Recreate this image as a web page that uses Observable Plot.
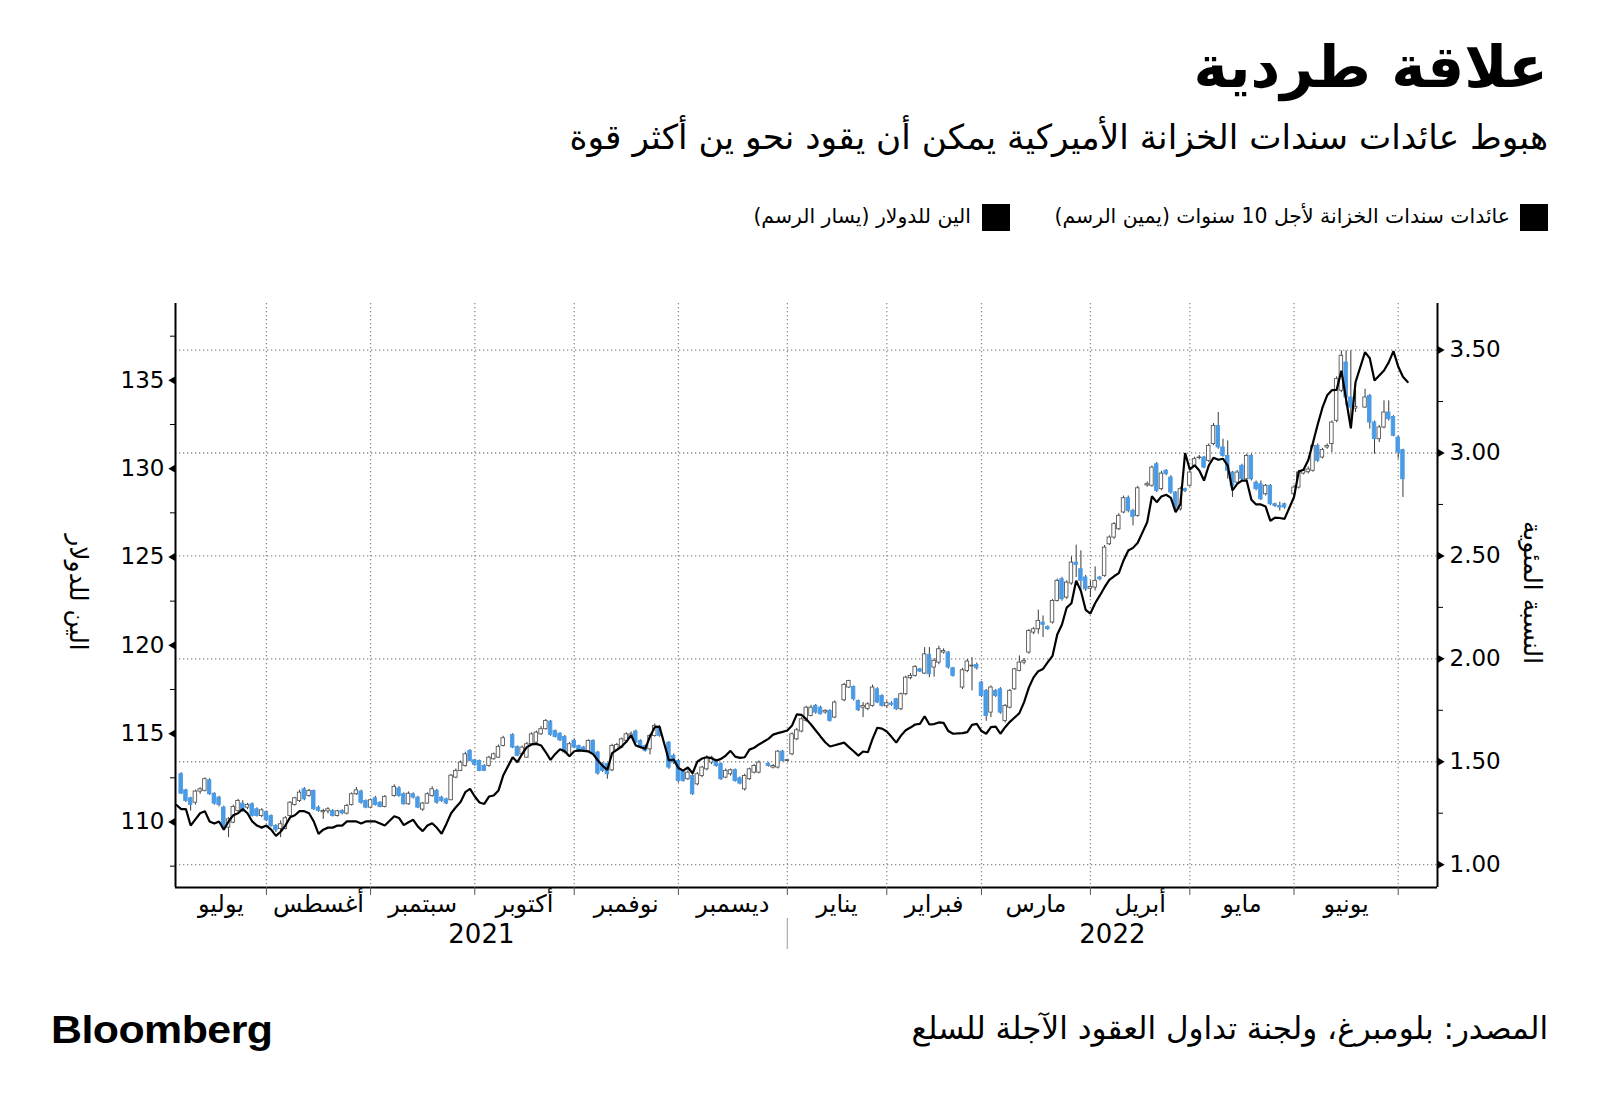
<!DOCTYPE html>
<html>
<head>
<meta charset="utf-8">
<script src="https://cdn.jsdelivr.net/npm/d3@7"></script>
<script src="https://cdn.jsdelivr.net/npm/@observablehq/plot@0.6"></script>
<style>
html,body{margin:0;padding:0;background:#fff;}
#page{position:relative;width:1600px;height:1111px;overflow:hidden;background:#fff;}
.ar{font-family:"DejaVu Sans",sans-serif;direction:rtl;position:absolute;white-space:nowrap;color:#000;line-height:1;}
#title{right:52px;top:38px;font-size:58px;font-weight:bold;}
#subtitle{right:52px;top:120px;font-size:34.3px;}
.sw{position:absolute;width:28px;height:27px;background:#000;top:204px;}
.lg{top:206px;font-size:20.4px;}
#source{right:52px;top:1013px;font-size:31px;}
#logo{position:absolute;left:51px;top:1010px;font-family:"Liberation Sans",Arial,sans-serif;font-weight:bold;font-size:39px;letter-spacing:-0.5px;transform:scaleX(1.1);transform-origin:left center;line-height:1;}
#chart{position:absolute;left:0;top:280px;}
</style>
</head>
<body>
<div id="page">
  <div id="title" class="ar">علاقة طردية</div>
  <div id="subtitle" class="ar">هبوط عائدات سندات الخزانة الأميركية يمكن أن يقود نحو ين أكثر قوة</div>
  <div class="sw" style="left:1520px"></div>
  <div class="ar lg" style="right:90px">عائدات سندات الخزانة لأجل 10 سنوات (يمين الرسم)</div>
  <div class="sw" style="left:982px"></div>
  <div class="ar lg" style="right:629px">الين للدولار (يسار الرسم)</div>
  <div id="chart"></div>
  <div id="source" class="ar">المصدر: بلومبرغ، ولجنة تداول العقود الآجلة للسلع</div>
  <div id="logo">Bloomberg</div>
</div>
<script>
// ---------------- DATA ----------------
// x positions are trading-day indices counted from 1 July 2021 (index 0)
const monthNames = ["يوليو","أغسطس","سبتمبر","أكتوبر","نوفمبر","ديسمبر","يناير","فبراير","مارس","أبريل","مايو","يونيو"];
const monthStartDays = [0,22,44,66,87,109,132,153,173,196,217,239,261];
const yearLabels = ["2021","2022"];
const yenTicks = [110,115,120,125,130,135];
const yenMinorTicks = [107.5,112.5,117.5,122.5,127.5,132.5,137.5];
const yieldTicks = [1.00,1.50,2.00,2.50,3.00,3.50];
const yieldMinorTicks = [1.25,1.75,2.25,2.75,3.25];
const leftTitle = "الين للدولار";
const rightTitle = "النسبة المئوية";

// USD/JPY daily candles [open, high, low, close]; first row is trading day 4, null = no session
const usdJpyStart = 4;
const usdJpy = [
/* 4 */ [112.70,112.79,111.55,111.60],[111.79,111.85,111.10,111.19],[111.34,111.40,110.62,110.96],[111.09,111.80,110.95,111.72],[111.72,111.94,111.57,111.85],
/* 9 */ [111.76,112.50,111.70,112.42],[112.36,112.45,111.50,111.57],[111.60,111.65,110.95,111.04],[111.38,111.45,110.85,110.96],[110.81,110.90,109.65,109.72],
/*14 */ [109.68,110.25,109.11,110.15],[109.96,110.95,109.90,110.85],[110.62,111.28,110.55,111.19],[111.04,111.20,110.55,110.62],[110.81,111.05,110.70,110.96],
/*19 */ [111.00,111.08,110.28,110.34],[110.72,110.80,110.28,110.34],[110.34,110.75,110.25,110.66],[110.57,110.62,110.02,110.09],[110.34,110.40,109.70,109.77],
/*24 */ [109.77,109.85,109.40,109.53],[109.60,110.06,109.11,109.87],[109.60,110.30,109.55,110.21],[110.34,111.15,110.30,111.09],[110.96,111.40,110.90,111.34],
/*29 */ [111.19,111.80,111.10,111.66],[111.85,111.95,111.20,111.28],[111.47,111.85,111.40,111.76],[111.76,111.80,110.65,110.72],[110.81,110.90,110.55,110.62],
/*34 */ [110.55,110.72,110.15,110.62],[110.60,110.81,110.45,110.72],[110.62,110.70,110.28,110.34],[110.34,110.66,110.28,110.60],[110.62,110.70,110.40,110.49],
/*39 */ [110.47,111.00,110.40,110.91],[110.96,111.65,110.90,111.57],[111.57,111.95,111.50,111.79],[111.72,111.80,111.00,111.09],[111.19,111.25,110.75,110.81],
/*44 */ [110.81,111.30,110.75,111.23],[111.34,111.45,110.90,110.96],[111.09,111.15,110.80,110.85],[110.85,111.50,110.80,111.42],null,
/*49 */ [111.47,112.10,111.40,111.98],[111.90,112.00,111.40,111.47],[111.57,111.65,110.95,111.00],[111.00,111.70,110.95,111.60],[111.57,111.65,111.30,111.38],
/*54 */ [111.38,111.45,110.75,110.81],[110.70,111.10,110.60,111.04],[111.04,111.65,111.00,111.57],[111.47,112.00,111.40,111.85],[111.76,111.85,111.00,111.09],
/*59 */ [111.38,111.45,111.10,111.19],[111.28,111.35,110.98,111.04],[111.23,112.70,111.20,112.62],[112.51,113.00,112.45,112.89],[112.89,113.45,112.85,113.36],
/*64 */ [113.17,113.95,113.10,113.83],[114.02,114.10,113.40,113.45],[113.49,113.55,113.15,113.23],[113.45,113.50,112.85,112.89],[113.17,113.25,112.85,112.89],
/*69 */ [113.17,113.72,113.10,113.64],[113.55,113.90,113.50,113.83],[113.64,114.35,113.60,114.25],[114.30,114.85,114.25,114.74],null,
/*74 */ [114.93,115.00,114.15,114.21],[114.25,114.30,113.70,113.74],[113.83,114.30,113.78,114.21],[113.64,114.50,113.60,114.40],[114.40,115.05,114.35,114.96],
/*79 */ [114.49,115.15,114.45,115.06],[114.96,115.40,114.90,115.25],[115.25,115.80,115.20,115.72],[115.68,115.75,114.85,114.93],[115.15,115.20,114.75,114.81],
/*84 */ [115.00,115.05,114.55,114.62],[114.81,114.90,113.85,113.93],[113.74,114.50,113.70,114.40],[114.59,114.70,114.15,114.21],[114.30,114.35,113.92,113.98],
/*89 */ [114.21,114.28,113.95,114.02],[113.98,114.65,113.92,114.59],[114.59,114.65,113.78,113.83],[113.93,114.00,112.65,112.74],[113.30,113.35,112.80,112.89],
/*94 */ [113.27,113.32,112.42,112.70],[112.92,114.40,112.85,114.30],[114.06,114.45,114.00,114.36],[114.21,114.75,114.15,114.68],[114.59,115.05,114.55,114.96],
/*99 */ [114.78,115.10,114.72,114.96],[115.12,115.20,114.45,114.49],[114.59,114.65,114.15,114.21],[114.30,114.35,113.95,114.02],[114.11,114.95,113.80,114.87],
/*104*/ [114.87,115.55,114.80,115.44],[115.34,115.45,114.80,114.87],null,[114.49,114.55,112.98,113.08],[113.74,113.85,113.25,113.36],
/*109*/ [113.45,113.55,112.20,112.32],[112.89,112.95,112.25,112.32],[112.42,112.90,112.35,112.79],[112.60,112.70,111.50,111.57],[112.13,112.80,112.05,112.70],
/*114*/ [112.60,113.15,112.50,113.08],[112.98,113.75,112.90,113.64],[113.36,113.72,113.25,113.64],[113.45,113.55,113.10,113.17],[113.27,113.35,112.35,112.42],
/*119*/ [112.51,113.00,112.45,112.89],[112.70,113.00,112.60,112.93],[112.93,113.00,112.25,112.32],[112.47,112.55,112.10,112.17],[111.85,112.70,111.75,112.60],
/*124*/ [112.42,113.05,112.35,112.98],[112.79,113.25,112.72,113.17],[112.79,113.45,112.72,113.36],null,[113.30,113.35,113.10,113.17],
/*129*/ [113.08,113.25,113.00,113.17],[113.08,114.05,113.00,113.98],[113.98,114.05,113.40,113.45],[113.45,113.55,113.40,113.50],[113.83,115.05,113.75,114.96],
/*134*/ [114.68,115.30,114.60,115.19],[115.12,115.90,115.05,115.81],[115.72,116.55,115.65,116.47],[116.00,116.60,115.95,116.47],[116.57,116.65,116.10,116.19],
/*139*/ [116.47,116.55,116.05,116.10],[116.20,116.35,116.10,116.29],[116.29,116.35,115.65,115.72],[115.91,116.85,115.85,116.76],null,
/*144*/ [116.89,117.85,116.80,117.76],[117.61,118.02,117.55,117.98],[117.64,117.70,116.85,116.95],[116.85,116.90,116.25,116.32],[116.47,116.76,115.91,116.57],
/*149*/ [116.40,116.75,116.30,116.66],[116.57,117.75,116.50,117.61],[117.51,117.60,116.70,116.76],[117.13,117.20,116.50,116.57],[116.55,116.85,116.45,116.72],
/*154*/ [116.70,116.80,116.55,116.63],[116.95,117.00,116.30,116.38],[116.38,117.30,116.30,117.23],[117.23,118.25,117.15,118.17],[118.14,118.40,118.05,118.27],
/*159*/ [118.27,118.85,118.20,118.78],[118.64,118.70,118.45,118.51],[118.40,119.87,118.35,119.49],[119.46,119.87,118.17,118.36],[118.74,119.25,118.20,119.12],
/*164*/ [119.02,119.95,118.90,119.78],[119.59,119.80,119.50,119.68],[119.59,119.65,118.65,118.74],[118.70,118.75,118.20,118.27],null,
/*169*/ [117.61,118.70,117.50,118.59],[118.55,119.20,118.45,119.08],[118.80,119.30,117.42,118.85],[118.89,119.00,118.60,118.70],[117.89,117.95,117.05,117.13],
/*174*/ [117.42,117.50,115.70,116.00],[116.19,117.70,115.90,117.61],[117.42,117.50,117.05,117.13],[117.51,117.60,116.10,116.19],[115.72,116.65,115.60,116.57],
/*179*/ [116.47,117.50,116.40,117.42],[117.51,118.70,117.45,118.64],[118.55,119.40,118.50,119.02],[119.02,119.25,118.90,119.12],[119.59,120.90,119.50,120.81],
/*184*/ [120.72,121.00,120.60,120.91],[120.91,121.99,120.63,121.38],[121.29,121.66,120.44,121.16],[121.04,121.10,120.85,120.91],[121.29,122.60,121.20,122.51],
/*189*/ [122.51,123.75,122.45,123.65],[123.74,123.85,122.50,122.61],[122.70,123.65,122.60,123.55],[123.50,125.01,123.40,124.68],[124.68,125.67,123.84,124.55],
/*194*/ [124.31,125.35,123.08,123.65],[123.84,123.95,123.05,123.17],[123.20,123.65,122.70,123.30],[123.27,124.44,123.08,123.65],[123.84,123.90,123.65,123.74],
/*199*/ [123.93,125.65,123.85,125.53],[125.72,126.20,125.65,126.10],[126.10,126.95,126.00,126.86],[126.57,127.45,126.50,127.33],[127.52,128.45,127.45,128.33],
/*204*/ [128.33,128.45,127.50,127.61],[127.61,127.70,126.76,127.27],[127.33,129.00,127.25,128.89],null,[129.05,129.25,128.95,129.12],
/*209*/ [129.03,130.15,128.95,130.06],[130.25,130.35,128.65,128.74],[128.84,129.85,128.75,129.72],[129.88,129.95,129.60,129.69],[129.50,129.60,128.55,128.65],
/*214*/ [128.65,128.70,127.70,127.80],[127.70,128.95,127.60,128.84],[128.84,128.90,128.65,128.74],[129.03,129.90,128.95,129.78],[130.16,130.65,130.10,130.54],
/*219*/ [130.60,130.75,130.50,130.63],[130.63,130.70,130.00,130.06],[130.44,131.40,130.35,131.29],[131.39,132.55,131.30,132.42],[132.42,133.18,131.10,131.20],
/*224*/ [131.20,131.67,130.65,130.72],[130.72,131.57,129.40,129.88],[129.78,129.85,128.37,129.03],[129.21,129.90,129.10,129.78],[130.16,130.25,129.30,129.40],
/*229*/ [129.40,130.82,129.30,130.72],[130.72,130.82,129.30,129.40],[129.21,129.30,128.75,128.84],[129.12,129.31,128.20,128.27],[128.55,129.10,128.45,129.03],
/*234*/ [129.03,129.10,127.90,127.99],[127.99,128.05,127.80,127.89],[127.89,128.10,127.60,127.80],[127.99,128.05,127.70,127.80],null,
/*239*/ [128.55,129.05,128.45,128.93],[128.93,129.90,128.85,129.78],[129.72,130.00,129.65,129.88],[129.80,130.10,129.70,129.95],[129.88,131.40,129.80,131.29],
/*244*/ [131.29,131.40,130.35,130.44],[130.63,131.15,130.55,131.05],[131.20,131.40,131.10,131.29],[131.39,132.70,130.91,132.61],[132.71,135.20,132.60,135.07],
/*249*/ [134.41,136.67,134.30,136.39],[136.01,136.67,133.56,134.03],[134.03,136.67,132.71,133.46],[133.40,134.44,133.18,133.50],null,
/*254*/ [133.46,134.50,133.40,134.03],[134.12,134.20,132.24,132.61],[132.61,132.70,130.82,131.67],[131.67,132.45,131.48,132.33],[132.33,133.84,132.25,133.18],
/*259*/ [133.18,133.84,132.70,132.80],[132.93,133.00,131.80,131.86],[131.76,131.85,130.54,130.91],[131.05,131.10,128.37,129.40]
];

// US 10-year Treasury yield (%), first value is trading day 3, null = no session
const yieldStart = 3;
const treasury10y = [
/* 3 */ 1.29,1.27,1.27,1.19,1.22,1.25,1.26,1.21,1.20,1.21,
/*13 */ 1.17,1.21,1.24,1.25,1.27,1.25,1.21,1.19,1.18,1.19,
/*23 */ 1.17,1.14,1.16,1.19,1.23,1.24,1.26,1.26,1.25,1.21,
/*33 */ 1.15,1.17,1.18,1.18,1.19,1.19,1.21,1.21,1.21,1.20,
/*43 */ 1.21,1.21,1.21,1.20,1.19,null,1.235,1.227,1.192,1.206,
/*53 */ 1.218,1.185,1.163,1.190,1.201,1.179,1.150,1.198,1.250,1.279,
/*63 */ 1.304,1.352,1.368,1.331,1.302,1.295,1.331,1.336,1.360,1.433,
/*73 */ null,1.522,1.498,1.538,1.571,1.584,1.587,1.579,1.546,1.509,
/*83 */ 1.538,1.561,1.551,1.527,1.551,1.555,1.553,1.550,1.537,1.506,
/*93 */ 1.480,1.461,1.542,1.558,1.574,1.597,1.629,1.579,1.571,1.563,
/*103*/ 1.623,1.668,1.671,null,1.506,1.511,1.470,1.457,1.472,1.444,
/*113*/ 1.501,1.516,1.522,1.517,1.506,1.514,1.530,1.553,1.525,1.519,
/*123*/ 1.522,1.559,1.568,1.584,null,1.611,1.632,1.639,1.645,1.652,
/*133*/ 1.676,1.730,1.728,1.707,1.681,1.652,1.623,1.595,1.574,1.580,
/*143*/ null,1.593,1.571,1.551,1.530,1.550,1.546,1.611,1.665,1.661,
/*153*/ 1.647,1.621,1.593,1.627,1.653,1.666,1.681,1.684,1.721,1.681,
/*163*/ 1.683,1.691,1.689,1.649,1.636,null,1.639,1.644,1.679,1.684,
/*173*/ 1.649,1.636,1.668,1.671,1.636,1.668,1.694,1.715,1.736,1.79,
/*183*/ 1.86,1.91,1.94,1.951,1.984,2.014,2.118,2.167,2.249,2.270,
/*193*/ 2.380,2.329,2.238,2.220,2.270,2.308,2.348,2.384,2.401,2.416,
/*203*/ 2.478,2.526,2.539,2.564,null,2.664,2.790,2.761,2.789,2.797,
/*213*/ 2.782,2.712,2.750,3.000,2.920,2.940,2.915,2.866,2.939,2.977,
/*223*/ 2.967,2.972,2.939,2.818,2.850,2.866,2.866,2.773,2.750,2.750,
/*233*/ 2.740,2.670,2.686,2.684,2.680,null,2.786,2.910,2.919,2.965,
/*243*/ 3.050,3.138,3.220,3.280,3.305,3.307,3.400,3.260,3.120,3.345,
/*253*/ null,3.490,3.460,3.352,3.376,3.401,3.440,3.495,3.420,3.370,3.345
];

// ---------------- CHART ----------------
const BLUE = "#4a9be6";
const GRID = "#8c8c8c";
const AR_FONT = "DejaVu Sans, sans-serif";
const xDomain = [2.8, 269.3];
const yDomain = [106.29, 139.35];
// right-axis (yield %) expressed on the left-axis (yen) scale
const toYen = r => 107.582 + 11.653 * (r - 1);
const fromYen = v => 1 + (v - 107.582) / 11.653;

const candles = usdJpy.map((d, k) => d && {i: usdJpyStart + k, open: d[0], high: d[1], low: d[2], close: d[3]}).filter(Boolean);
const yields = treasury10y.map((v, k) => v == null ? null : {i: yieldStart + k, y: v}).filter(Boolean);
const monthLabels = monthNames.map((name, k) => ({
  name, mid: (Math.max(monthStartDays[k], xDomain[0]) + Math.min(monthStartDays[k + 1], xDomain[1])) / 2
}));
const jan = monthStartDays[6];
const yearMarks = [
  {label: yearLabels[0], mid: (xDomain[0] + jan) / 2},
  {label: yearLabels[1], mid: (jan + xDomain[1]) / 2}
];
const gridDash = {stroke: GRID, strokeOpacity: 1, strokeWidth: 1.3, strokeDasharray: "1.3,2.7"};
const innerMonths = monthStartDays.filter(d => d > xDomain[0] && d < xDomain[1]);

const chart = Plot.plot({
  width: 1600,
  height: 680,
  marginTop: 23,
  marginBottom: 73,
  marginLeft: 175,
  marginRight: 163,
  x: {type: "linear", domain: xDomain, axis: null},
  y: {domain: yDomain, axis: null},
  style: {fontFamily: "DejaVu Sans, sans-serif", fontSize: "23px", background: "transparent", overflow: "visible", color: "#000"},
  marks: [
    Plot.gridY(yieldTicks.map(toYen), gridDash),
    Plot.gridX(innerMonths, gridDash),
    Plot.ruleX(candles, {x: "i", y1: "low", y2: "high", stroke: "#3a3a3a", strokeWidth: 1}),
    Plot.rect(candles, {
      x1: d => d.i - 0.37, x2: d => d.i + 0.37,
      y1: "open", y2: "close",
      fill: d => d.close >= d.open ? "#fff" : BLUE,
      stroke: d => d.close >= d.open ? "#555" : BLUE,
      strokeWidth: 0.9
    }),
    Plot.line(yields, {x: "i", y: d => toYen(d.y), stroke: "#000", strokeWidth: 2.2, strokeLinejoin: "miter"}),
    // axis lines
    Plot.ruleX([xDomain[0]], {stroke: "#000", strokeWidth: 2}),
    Plot.ruleX([xDomain[1]], {stroke: "#000", strokeWidth: 2}),
    Plot.ruleY([yDomain[0]], {stroke: "#000", strokeWidth: 2}),
    // left axis (yen per dollar)
    Plot.axisY(yenMinorTicks, {anchor: "left", tickSize: 5, tickFormat: () => "", stroke: "#000"}),
    Plot.dot(yenTicks, {y: d => d, frameAnchor: "left", symbol: "triangle", rotate: -90, r: 3.1, fill: "#000", stroke: null, dx: -2.4}),
    Plot.text(yenTicks, {y: d => d, text: d => String(d), frameAnchor: "left", textAnchor: "end", dx: -11, fontSize: 23}),
    Plot.text([leftTitle], {frameAnchor: "left", textAnchor: "middle", dx: -98, dy: -3, rotate: 90, fontSize: 25, fontFamily: AR_FONT}),
    // right axis (yield %)
    Plot.axisY(yieldMinorTicks.map(toYen), {anchor: "right", tickSize: 5, tickFormat: () => "", stroke: "#000"}),
    Plot.dot(yieldTicks.map(toYen), {y: d => d, frameAnchor: "right", symbol: "triangle", rotate: 90, r: 3.1, fill: "#000", stroke: null, dx: 2.4}),
    Plot.text(yieldTicks.map(toYen), {y: d => d, text: d => fromYen(d).toFixed(2), frameAnchor: "right", textAnchor: "start", dx: 12, fontSize: 23}),
    Plot.text([rightTitle], {frameAnchor: "right", textAnchor: "middle", dx: 94, dy: -3, rotate: 90, fontSize: 25, fontFamily: AR_FONT}),
    // x axis: month boundaries, month names, years
    Plot.axisX(innerMonths, {anchor: "bottom", tickSize: 8, tickFormat: () => "", stroke: "#555"}),
    Plot.text(monthLabels, {x: "mid", text: "name", frameAnchor: "bottom", dy: 24, fontSize: 24, fontFamily: AR_FONT}),
    Plot.text(yearMarks, {x: "mid", text: "label", frameAnchor: "bottom", dy: 55, fontSize: 26, fontFamily: AR_FONT}),
    Plot.ruleX([jan], {stroke: "#aaa", strokeWidth: 1.2, insetTop: 615, insetBottom: -62})
  ]
});
document.getElementById("chart").appendChild(chart);
</script>
</body>
</html>
